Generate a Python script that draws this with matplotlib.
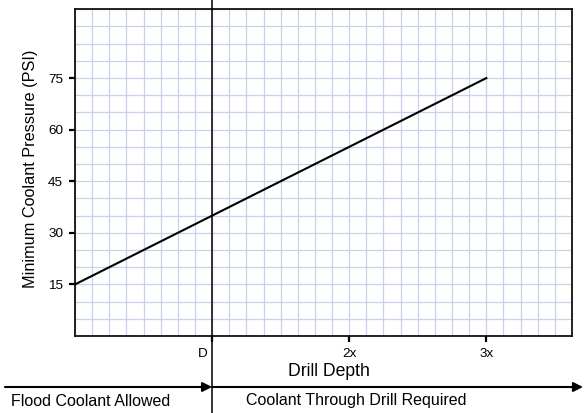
import numpy as np
import matplotlib
matplotlib.use('Agg')
import matplotlib.pyplot as plt
from matplotlib.ticker import MultipleLocator
from matplotlib.transforms import blended_transform_factory, ScaledTranslation

plt.rcParams['font.family'] = ['Liberation Sans', 'DejaVu Sans']

# dati
drill_depth = [0, 1, 2, 3]
min_pressure = [15, 35, 55, 75]
x_ticks = [1, 2, 3]
x_tick_labels = ['D', '2x', '3x']
y_ticks = [15, 30, 45, 60, 75]
divider_x = 1
left_label = 'Flood Coolant Allowed'
right_label = 'Coolant Through Drill Required'

fig = plt.figure(figsize=(5.84, 4.13), dpi=100)
ax = fig.add_axes([0.1284, 0.1864, 0.8511, 0.7911])

ax.plot(drill_depth, min_pressure, color='black', linewidth=1.5, zorder=3)

ax.set_xlim(0, 3.625)
ax.set_ylim(0, 95)
ax.xaxis.set_minor_locator(MultipleLocator(0.125))
ax.yaxis.set_minor_locator(MultipleLocator(5))
ax.set_xticks(x_ticks)
ax.set_xticklabels(x_tick_labels)
ax.set_yticks(y_ticks)
ax.grid(which='both', color='#c6d1ea', linewidth=0.9)
ax.set_axisbelow(True)
ax.tick_params(which='minor', length=0)
ax.tick_params(which='major', length=4.5, width=1.6, color='black',
               labelsize=9.7, pad=4)
for sp in ax.spines.values():
    sp.set_linewidth(1.3)
    sp.set_color('#111111')

# etichetta D spostata a sinistra
lbl = ax.get_xticklabels()[0]
lbl.set_transform(lbl.get_transform() + ScaledTranslation(-6.5 / 72, 0, fig.dpi_scale_trans))

ax.set_xlabel('Drill Depth', fontsize=12.7, va='center')
ax.xaxis.set_label_coords(0.511, -0.110)
ax.set_ylabel('Minimum Coolant Pressure (PSI)', fontsize=11.7, va='center')
ax.yaxis.set_label_coords(-0.0905, 0.511)

# linea verticale divisoria su tutta la figura
trans = blended_transform_factory(ax.transData, fig.transFigure)
ax.plot([divider_x, divider_x], [0, 1], transform=trans, color='black',
        linewidth=1.1, clip_on=False, zorder=4)

# frecce in basso
arrow_y = 1 - 387 / 413
ax.annotate('', xy=(divider_x, arrow_y), xycoords=('data', 'figure fraction'),
            xytext=(5 / 584, arrow_y), textcoords='figure fraction',
            arrowprops=dict(arrowstyle='-|>', color='black', lw=1.5,
                            mutation_scale=14, shrinkA=0, shrinkB=0))
ax.annotate('', xy=(583 / 584, arrow_y), xycoords='figure fraction',
            xytext=(divider_x, arrow_y), textcoords=('data', 'figure fraction'),
            arrowprops=dict(arrowstyle='-|>', color='black', lw=1.5,
                            mutation_scale=14, shrinkA=0, shrinkB=0))

text_y = 1 - 401 / 413
fig.text(91 / 584, text_y, left_label, fontsize=11.5, ha='center', va='center')
fig.text(356 / 584, text_y, right_label, fontsize=11.5, ha='center', va='center')

fig.savefig('out.png', dpi=100, facecolor='white')
